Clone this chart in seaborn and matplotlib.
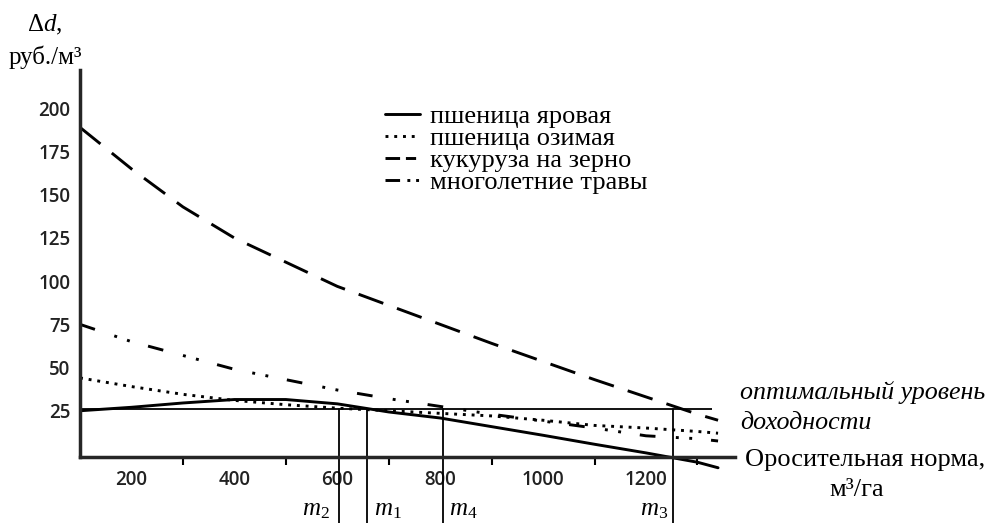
import matplotlib
matplotlib.use("Agg")
import matplotlib.pyplot as plt
from matplotlib.ticker import FixedLocator
import seaborn as sns
import pandas as pd

# irrigation norm, m3/ha
x_norm = [100, 200, 300, 400, 500, 600, 700, 800, 900, 1000, 1100, 1200, 1300, 1340]

# profit per m3 of water, rub./m3
wheat_spring = [25, 27, 29.5, 31.5, 31.5, 29, 24.3, 20.8, 15.8, 10.8, 5.6, 0.6, -4.8, -8]
wheat_winter = [44, 39, 34.5, 31, 28.5, 26.5, 25, 23.5, 22, 19.5, 16.5, 15, 13, 12]
corn_grain = [189, 165, 143, 125, 111, 97, 86, 75, 64, 53.5, 43, 33, 23, 19.5]
grass = [75, 65, 57, 49, 43, 37, 32, 27.5, 23, 19, 15, 10.5, 8.8, 7.5]

labels = ["пшеница яровая", "пшеница озимая", "кукуруза на зерно", "многолетние травы"]

optimal_level = 26
m_marks = {"m_2": 604, "m_1": 658, "m_4": 805, "m_3": 1252}

sns.set_theme(style="white")
plt.rcParams["font.family"] = ["Liberation Serif", "DejaVu Serif"]
plt.rcParams["mathtext.fontset"] = "custom"
plt.rcParams["mathtext.rm"] = "Liberation Serif"
plt.rcParams["mathtext.it"] = "Liberation Serif:italic"

W, H = 988, 523
fig = plt.figure(figsize=(W / 100, H / 100), dpi=100)
ax = fig.add_axes([80 / W, 0.0924, 0.663, 0.773])

df = pd.DataFrame({"x": x_norm, labels[0]: wheat_spring, labels[1]: wheat_winter,
                   labels[2]: corn_grain, labels[3]: grass})

styles = {
    labels[0]: "-",
    labels[1]: (0, (1, 2)),
    labels[2]: (0, (9, 5)),
    labels[3]: (0, (5.4, 7, 1, 3.6, 1, 6.5)),
}
for name in labels:
    sns.lineplot(data=df, x="x", y=name, ax=ax, color="black",
                 linestyle=styles[name], linewidth=2.1, label=name)

# optimal profit level and m-lines
ax.hlines(optimal_level, 100, 1328, color="black", linewidth=1.3)
for name, xv in m_marks.items():
    ax.plot([xv, xv], [optimal_level, -40], color="black", linewidth=1.3, clip_on=False)

ax.set_xlim(100, 1373)
ax.set_ylim(-12, 222)
ax.spines["top"].set_visible(False)
ax.spines["right"].set_visible(False)
ax.spines["left"].set_linewidth(2.5)
ax.spines["bottom"].set_linewidth(2.5)
ax.spines["bottom"].set_position(("data", -2))
ax.spines["left"].set_bounds(-2, 222)

ax.set_yticks([25, 50, 75, 100, 125, 150, 175, 200])
ax.set_xticks([200, 400, 600, 800, 1000, 1200])
ax.xaxis.set_minor_locator(FixedLocator([300, 500, 700, 900, 1100, 1300]))
ax.tick_params(axis="y", direction="inout", length=8, width=1.5, pad=3, colors="black")
ax.tick_params(axis="x", which="major", length=0, pad=9, colors="black")
ax.tick_params(axis="x", which="minor", direction="out", length=6, width=1.5,
               bottom=True, colors="black")
for lab in ax.get_xticklabels() + ax.get_yticklabels():
    lab.set_fontfamily(["Open Sans", "DejaVu Sans"])
    lab.set_fontweight("semibold")
    lab.set_fontsize(13.5)
    lab.set_color("#222222")
ax.set_xlabel("")
ax.set_ylabel("")

leg = ax.legend(loc="upper left", bbox_to_anchor=(385 / W, 1 - 105 / H),
                bbox_transform=fig.transFigure, frameon=False, fontsize=19,
                handlelength=1.33, handletextpad=0.38, labelspacing=-0.06,
                borderpad=0, borderaxespad=0)
for t in leg.get_texts():
    t.set_color("black")
# shorter patterns so the legend keys show both parts of the dash
leg_lines = leg.get_lines()
leg_lines[2].set_linestyle((0, (5, 2, 3.5, 10)))
leg_lines[3].set_linestyle((0, (5, 2.5, 1, 2, 1, 10)))


def ftext(px, py, s, **kw):
    fig.text(px / W, 1 - py / H, s, color="black", **kw)


ftext(45, 25, "Δ$d$,", fontsize=18, ha="center", va="center")
ftext(45, 57, "руб./м³", fontsize=18, ha="center", va="center")
ftext(740, 393, "оптимальный уровень", fontsize=18.7, style="italic", va="center")
ftext(740, 423, "доходности", fontsize=18.7, style="italic", va="center")
ftext(745, 460, "Оросительная норма,", fontsize=19, va="center")
ftext(857, 490, "м³/га", fontsize=19, ha="center", va="center")

m_pos = {"m_2": 316, "m_1": 388, "m_4": 463, "m_3": 654}
for name, px in m_pos.items():
    ftext(px, 510, "$" + name + "$", fontsize=18, ha="center", va="center")

fig.savefig("out.png", dpi=100)
